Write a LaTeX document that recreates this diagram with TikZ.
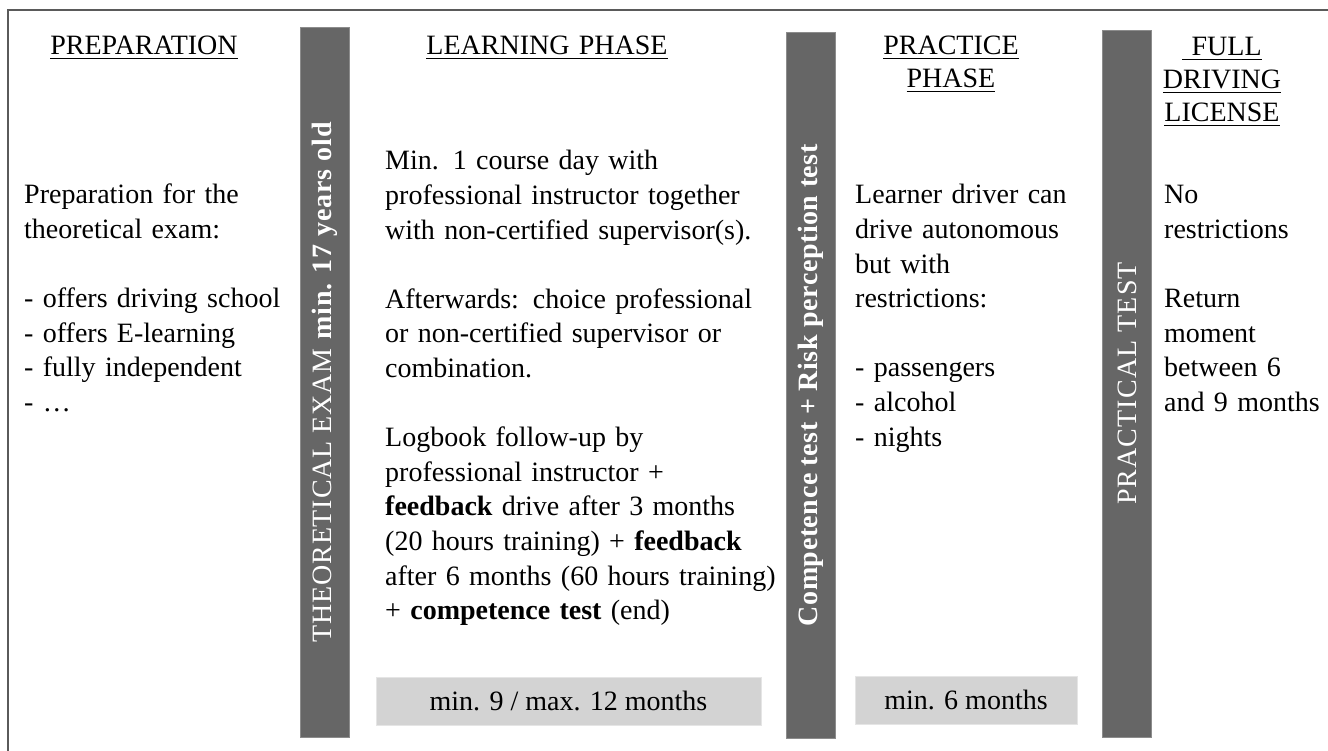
\documentclass[tikz,border=0pt]{standalone}
\usepackage{fontspec}
\setmainfont{Liberation Serif}
\usetikzlibrary{positioning}

\definecolor{bargray}{HTML}{666666}
\definecolor{barline}{HTML}{8C8C8C}
\definecolor{periodgray}{HTML}{D3D3D3}
\definecolor{framegray}{HTML}{5A5A5A}

% underlined heading word
\newcommand{\ultitle}[1]{\leavevmode\setbox0\hbox{#1}\rlap{\rule[-4.5pt]{\wd0}{1.6pt}}\box0}

\tikzset{
  bar/.style={fill=bargray, draw=barline, line width=0.8pt, rotate=90,
    minimum height=49, inner sep=0, text=white},
  period/.style={fill=periodgray, draw=periodgray!60!white, line width=0.6pt,
    minimum height=48, inner sep=0},
  coltext/.style={anchor=base west, inner sep=0, align=left, text width=#1},
  heading/.style={anchor=base, inner sep=0, align=center, text width=#1,
    font=\fontsize{28}{33}\selectfont},
}

\begin{document}
\begin{tikzpicture}[x=1pt, y=-1pt, font=\fontsize{28}{34.6}\selectfont]
\useasboundingbox (0,0) rectangle (1328,751);

% frame
\draw[framegray, line width=2pt] (8,751) -- (8,10) -- (1328,10);

% headings
\node[heading=260] (prep) at (144,55) {\ultitle{PREPARATION}};
\node[heading=380] (learn) at (547,55) {\ultitle{LEARNING PHASE}};
\node[heading=200] (practice) at (951,55) {\ultitle{PRACTICE}\\\ultitle{PHASE}};
\node[heading=160] (full) at (1222,56) {\ultitle{\ FULL}\\\ultitle{DRIVING}\\\ultitle{LICENSE}};

% exam bars
\node[bar, minimum width=710] (theory) at (324.5,382)
  {\addfontfeature{LetterSpace=3}THEORETICAL EXAM \textbf{min. 17 years old}};
\node[bar, minimum width=706] (competence) at (811,385)
  {\addfontfeature{LetterSpace=2}\textbf{Competence test + Risk perception test}};
\node[bar, minimum width=707] (practical) at (1127,383.5)
  {\addfontfeature{LetterSpace=4}PRACTICAL TEST};

% column texts
\node[coltext=270] (preptext) at (24,204)
  {Preparation for the\\theoretical exam:\\[34.6pt]- offers driving school\\- offers E-learning\\- fully independent\\- …};
\node[coltext=395] (learntext) at (385,170)
  {Min. 1 course day with\\professional instructor together\\with non-certified supervisor(s).\\[34.6pt]%
   Afterwards: choice professional\\or non-certified supervisor or\\combination.\\[34.6pt]%
   Logbook follow-up by\\professional instructor +\\\textbf{feedback} drive after 3 months\\%
   (20 hours training) + \textbf{feedback}\\after 6 months (60 hours training)\\+ \textbf{competence test} (end)};
\node[coltext=235] (practicetext) at (855,204)
  {Learner driver can\\drive autonomous\\but with\\restrictions:\\[34.6pt]- passengers\\- alcohol\\- nights};
\node[coltext=165] (fulltext) at (1164,204)
  {No\\restrictions\\[34.6pt]Return\\moment\\between 6\\and 9 months};

% durations
\node[period, minimum width=385] (learnperiod) at (568.5,701) {min. 9 / max. 12 months};
\node[period, minimum width=222] (practiceperiod) at (966,700) {min. 6 months};
\end{tikzpicture}
\end{document}
